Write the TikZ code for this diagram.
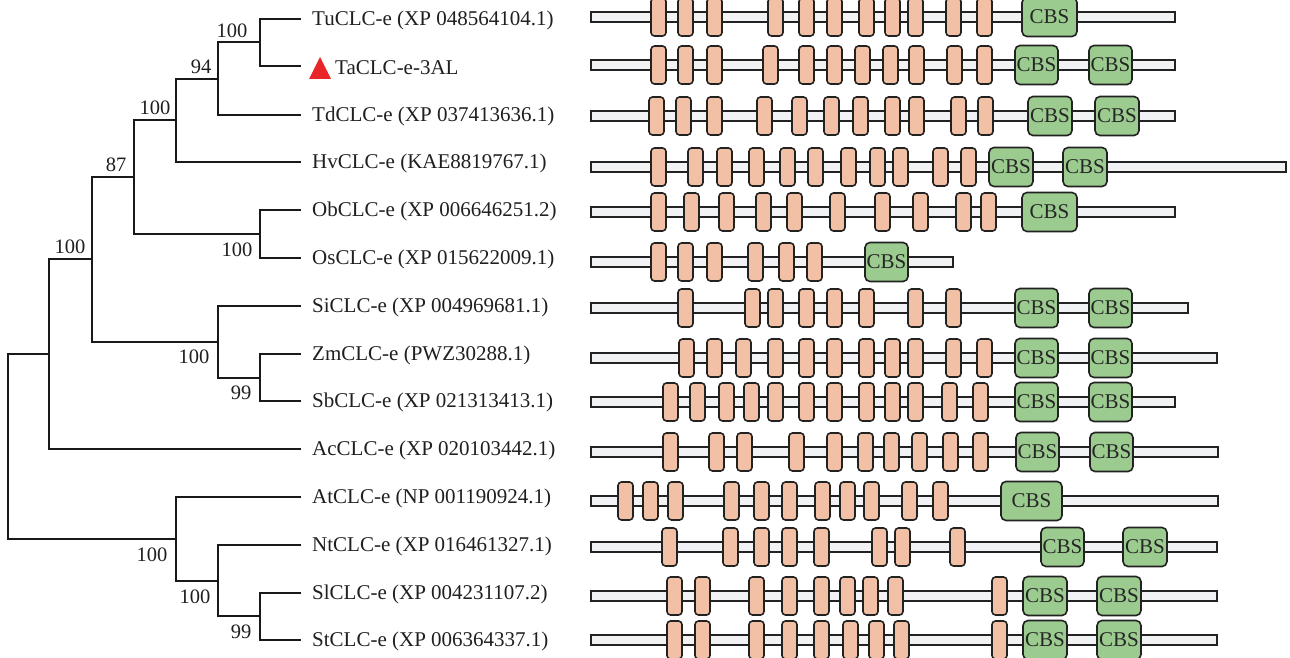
\documentclass[tikz,border=0pt]{standalone}
\usepackage{fontspec}
\setmainfont{Liberation Serif}
\definecolor{tmfill}{HTML}{F2C1A5}
\definecolor{cbsfill}{HTML}{9CCB90}
\definecolor{barfill}{HTML}{F0F2F3}
\definecolor{edgec}{HTML}{222222}
\definecolor{trired}{HTML}{E8262A}
\tikzset{
  br/.style={line width=1.7pt, black!90},
  leaf/.style={anchor=west, inner sep=0pt, font=\fontsize{21}{25}\selectfont, text=black!88},
  bs/.style={inner sep=0pt, font=\fontsize{20.5}{24}\selectfont, text=black!88},
  bar/.style={draw=edgec, fill=barfill, line width=1.6pt},
  tm/.style={draw=edgec, fill=tmfill, line width=1.6pt, rounded corners=3.5pt, minimum width=15pt, minimum height=38pt, inner sep=0pt},
  cbs/.style={draw=edgec, fill=cbsfill, line width=1.6pt, rounded corners=5pt, minimum height=39pt, inner sep=0pt, font=\fontsize{21}{25}\selectfont, text=black!85},
}
\newcommand{\protrow}[5]{%
  \draw[bar] (591,#2-5) rectangle (#3,#2+5);
  \foreach \s [count=\k] in {#4} \node[tm] (#1-tm\k) at (\s+7.5,#2) {};
  \foreach \p/\q [count=\k] in {#5} \node[cbs, minimum width={(\q-\p)*1pt}] (#1-cbs\k) at ({(\p+\q)/2},#2) {CBS};
}
\begin{document}
\begin{tikzpicture}[x=1pt,y=-1pt]
\useasboundingbox (0,0) rectangle (1290,658);
% leaf tips
\coordinate (tTu) at (301,19);
\coordinate (tTa) at (301,66);
\coordinate (tTd) at (301,115);
\coordinate (tHv) at (301,162);
\coordinate (tOb) at (301,210);
\coordinate (tOs) at (301,258);
\coordinate (tSi) at (301,306);
\coordinate (tZm) at (301,354);
\coordinate (tSb) at (301,401);
\coordinate (tAc) at (301,449);
\coordinate (tAt) at (301,497);
\coordinate (tNt) at (301,545);
\coordinate (tSl) at (301,593);
\coordinate (tSt) at (301,640);
% internal nodes
\coordinate (n1) at (260,42);
\coordinate (n2) at (218,79);
\coordinate (n3) at (176,120);
\coordinate (n4) at (260,234);
\coordinate (n5) at (134,177);
\coordinate (n6) at (260,378);
\coordinate (n7) at (218,342);
\coordinate (n8) at (92,259);
\coordinate (n9) at (49,354);
\coordinate (n10) at (260,616);
\coordinate (n11) at (218,581);
\coordinate (n12) at (176,539);
\coordinate (root) at (8,446);
% branches
\draw[br] (tTu) -| (n1) |- (tTa);
\draw[br] (n1) -| (n2) |- (tTd);
\draw[br] (n2) -| (n3) |- (tHv);
\draw[br] (tOb) -| (n4) |- (tOs);
\draw[br] (n3) -| (n5) |- (n4);
\draw[br] (tZm) -| (n6) |- (tSb);
\draw[br] (tSi) -| (n7) |- (n6);
\draw[br] (n5) -| (n8) |- (n7);
\draw[br] (n8) -| (n9) |- (tAc);
\draw[br] (tSl) -| (n10) |- (tSt);
\draw[br] (tNt) -| (n11) |- (n10);
\draw[br] (tAt) -| (n12) |- (n11);
\draw[br] (n9) -| (root) |- (n12);
% bootstrap values
\node[bs] (b1) at (232,31) {100};
\node[bs] (b2) at (201,67) {94};
\node[bs] (b3) at (155,108) {100};
\node[bs] (b4) at (116,165) {87};
\node[bs] (b5) at (70,247) {100};
\node[bs] (b6) at (237,250) {100};
\node[bs] (b7) at (194,357) {100};
\node[bs] (b8) at (241,393) {99};
\node[bs] (b9) at (152,555) {100};
\node[bs] (b10) at (195,597) {100};
\node[bs] (b11) at (241,632) {99};
% leaf labels
\node[leaf] (lTu) at (312,20.5) {TuCLC-e (XP 048564104.1)};
\fill[trired] (309,79) -- (331,79) -- (320,57) -- cycle;
\node[leaf] (lTa) at (335,67.5) {TaCLC-e-3AL};
\node[leaf] (lTd) at (312,116.5) {TdCLC-e (XP 037413636.1)};
\node[leaf] (lHv) at (312,163.5) {HvCLC-e (KAE8819767.1)};
\node[leaf] (lOb) at (312,211.5) {ObCLC-e (XP 006646251.2)};
\node[leaf] (lOs) at (312,259.5) {OsCLC-e (XP 015622009.1)};
\node[leaf] (lSi) at (312,307.5) {SiCLC-e (XP 004969681.1)};
\node[leaf] (lZm) at (312,355.5) {ZmCLC-e (PWZ30288.1)};
\node[leaf] (lSb) at (312,402.5) {SbCLC-e (XP 021313413.1)};
\node[leaf] (lAc) at (312,450.5) {AcCLC-e (XP 020103442.1)};
\node[leaf] (lAt) at (312,498.5) {AtCLC-e (NP 001190924.1)};
\node[leaf] (lNt) at (312,546.5) {NtCLC-e (XP 016461327.1)};
\node[leaf] (lSl) at (312,594.5) {SlCLC-e (XP 004231107.2)};
\node[leaf] (lSt) at (312,641.5) {StCLC-e (XP 006364337.1)};
% domain architectures
\protrow{Tu}{17}{1175}{651,678,707,768,799,827,859,885,908,946,977}{1022/1077}
\protrow{Ta}{65}{1175}{651,678,707,763,799,827,855,883,909,947,977}{1015/1058,1089/1132}
\protrow{Td}{116}{1175}{649,676,707,757,792,824,853,885,909,951,978}{1028/1072,1095/1139}
\protrow{Hv}{167}{1286}{651,688,717,749,780,808,841,870,893,933,961}{989/1033,1063/1107}
\protrow{Ob}{212}{1175}{651,684,719,756,787,830,875,913,956,981}{1022/1077}
\protrow{Os}{262}{953}{651,678,707,748,779,807}{865/908}
\protrow{Si}{308}{1188}{678,745,768,799,827,859,908,946}{1015/1058,1089/1132}
\protrow{Zm}{358}{1217}{679,707,736,768,799,827,859,885,908,946,977}{1015/1058,1089/1132}
\protrow{Sb}{402}{1175}{663,690,719,744,768,799,827,859,885,908,942,973}{1015/1058,1089/1132}
\protrow{Ac}{452}{1218}{663,709,737,789,827,858,884,912,943,973}{1016/1059,1090/1133}
\protrow{At}{501}{1218}{618,643,668,724,754,782,815,840,864,902,933}{1001/1062}
\protrow{Nt}{547}{1217}{662,723,754,782,814,872,895,950}{1041/1084,1123/1167}
\protrow{Sl}{596}{1217}{667,695,749,782,814,840,863,888,992}{1023/1067,1097/1141}
\protrow{St}{640}{1217}{667,695,749,782,814,843,869,894,992}{1023/1067,1097/1141}
\end{tikzpicture}
\end{document}
